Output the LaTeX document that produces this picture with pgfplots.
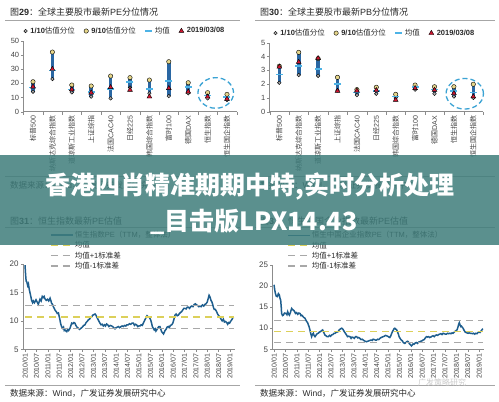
\documentclass[border=0pt]{standalone}
\usepackage{pgfplots}
\pgfplotsset{compat=1.18}
\usepackage{pgfplotstable}
\usepackage{fontspec}
\setmainfont{Liberation Sans}
\newfontfamily\cjk{Noto Sans CJK SC}

\definecolor{barblue}{HTML}{2A67A3}
\definecolor{qgrey}{HTML}{ABABAB}
\definecolor{qyellow}{HTML}{E6D68A}
\definecolor{meancyan}{HTML}{4DB3E6}
\definecolor{curred}{HTML}{D01530}
\definecolor{linedark}{HTML}{1E5E8E}
\definecolor{meanyel}{HTML}{DCD05A}
\definecolor{sdgrey}{HTML}{A8A8A8}
\definecolor{ringblue}{HTML}{3BA3D4}
\definecolor{banner}{HTML}{3F7D7B}
\definecolor{axgrey}{HTML}{8C8C8C}
\definecolor{txt}{HTML}{2A2A2A}
\definecolor{ticktxt}{HTML}{444444}

% PE quantiles
\pgfplotstableread{
x low high mean cur
0 14.1 21.1 17.0 17.6
1 23.0 42.0 29.0 30.0
2 13.6 18.8 15.5 15.7
3 10.6 18.1 14.0 13.4
4 9.4 25.1 16.0 17.2
5 17.0 24.0 21.0 15.3
6 13.0 22.3 15.8 10.6
7 11.0 35.2 21.8 16.5
8 13.0 20.4 17.5 14.1
9 9.4 13.4 11.5 10.6
10 8.2 12.2 10.3 9.0
}\petable

% PB quantiles
\pgfplotstableread{
x low high mean cur
0 2.10 3.30 2.70 3.25
1 2.66 4.30 3.30 3.60
2 2.60 3.85 3.10 3.87
3 1.55 2.49 2.00 1.50
4 1.20 1.60 1.40 1.52
5 1.30 1.77 1.50 1.55
6 1.00 1.26 1.10 0.85
7 1.60 1.93 1.80 1.70
8 1.30 1.81 1.60 1.57
9 1.10 1.81 1.50 1.33
10 1.00 1.99 1.40 1.10
}\pbtable

% Hang Seng PE (months since 2010/01)
\pgfplotstableread{
m v
0 19.8
0.3 18.2
0.6 17.0
1.0 16.8
1.4 16.2
1.8 16.5
2.2 15.6
2.6 15.0
3.0 14.4
3.5 13.6
4.0 13.2
4.4 13.5
5.0 13.2
5.8 13.7
6.4 13.3
7.0 12.9
7.5 13.4
7.9 13.8
8.5 13.5
9.1 14.3
9.6 14.1
10.1 14.3
10.5 13.9
11.2 13.6
11.9 13.8
12.5 13.5
13.2 14.0
13.6 13.6
14.0 13.1
14.5 12.9
14.9 12.5
15.4 12.2
15.8 11.9
16.5 11.6
17.0 11.3
17.6 11.4
18.0 10.8
18.4 10.2
18.8 9.5
19.3 9.0
19.8 8.7
20.3 8.9
20.7 8.3
21.1 8.4
21.6 8.2
22.0 8.1
22.5 8.5
23.0 8.3
23.7 8.7
24.2 9.2
24.6 9.6
25.2 9.5
25.8 9.7
26.3 9.6
26.8 9.2
27.4 8.9
28.1 8.7
28.7 8.5
29.5 8.7
30.2 8.9
30.9 9.2
31.6 9.3
32.2 9.7
32.8 9.9
33.4 10.2
34.0 10.3
34.6 10.6
35.1 10.7
35.7 11.0
36.3 11.1
36.9 11.2
37.4 11.0
37.8 10.7
38.4 10.3
39.0 9.9
39.5 9.6
40.1 9.3
40.7 9.4
41.3 9.1
41.9 9.3
42.4 9.1
43.0 9.45
43.6 9.3
44.2 9.0
44.9 9.2
45.7 9.1
46.5 8.9
47.0 8.7
47.4 8.6
48.0 8.8
48.6 8.9
49.2 9.0
49.9 8.8
50.6 9.0
51.2 9.1
51.8 9.0
52.5 9.2
53.1 9.1
53.7 9.3
54.4 9.3
55.0 9.5
55.7 9.4
56.4 9.6
57.1 9.6
57.7 9.2
58.3 9.4
58.8 9.3
59.4 9.0
60.0 9.1
60.6 9.1
61.2 9.3
61.8 9.2
62.5 9.7
63.2 10.2
63.7 10.5
64.3 10.9
65.0 10.7
65.5 10.6
66.2 10.2
66.7 9.6
67.1 9.0
67.6 8.7
68.1 8.4
68.6 8.6
69.0 8.2
69.4 8.4
69.9 8.7
70.5 9.0
71.1 9.0
71.6 8.5
72.0 8.1
72.5 7.9
73.0 7.7
73.4 8.0
73.8 8.3
74.3 8.5
74.9 8.9
75.5 9.0
76.0 8.8
76.6 9.2
77.3 9.3
77.9 9.6
78.5 10.3
79.0 11.0
79.6 11.2
80.2 10.9
80.8 11.0
81.4 11.3
82.0 11.5
82.5 11.6
83.1 11.9
83.7 12.2
84.3 12.2
84.9 12.1
85.5 12.4
86.1 12.4
86.7 12.2
87.3 12.5
87.8 12.6
88.5 12.5
89.2 12.9
89.8 13.0
90.4 12.8
91.0 12.7
91.6 12.5
92.2 12.6
92.8 12.5
93.5 12.8
94.2 12.6
94.8 12.9
95.4 13.0
96.0 13.3
96.6 14.0
97.0 14.5
97.5 14.2
98.0 13.6
98.4 13.4
98.8 13.0
99.2 12.5
99.7 12.0
100.3 12.0
101.0 11.6
101.5 11.2
102.1 10.9
102.7 10.7
103.3 10.3
103.9 10.0
104.5 10.3
105.1 9.8
105.7 9.9
106.3 9.7
106.8 9.4
107.3 9.7
107.8 9.6
108.3 9.9
108.8 10.1
109.3 10.4
109.8 10.7
}\hsi

% HSCEI PE
\pgfplotstableread{
m v
0 20.3
0.3 19.3
0.7 18.3
1.2 17.6
1.75 17.5
2.3 18.2
2.8 17.9
3.2 17.0
3.5 16.7
3.8 15.0
4.0 13.5
4.5 13.0
4.9 13.1
5.5 13.6
6.3 13.5
6.8 13.2
7.2 13.9
7.6 13.4
8.1 13.1
8.6 13.7
9.3 14.7
9.8 14.4
10.2 14.3
10.8 14.0
11.3 13.5
11.9 13.7
12.5 13.3
13.1 13.6
13.7 13.5
14.2 13.0
14.6 13.1
15.2 12.8
15.8 12.5
16.3 12.4
16.8 11.9
17.2 11.6
17.7 11.3
18.1 10.8
18.5 10.3
18.9 9.6
19.3 8.8
19.8 8.0
20.2 8.5
20.7 8.8
21.1 8.3
21.6 8.0
22.2 8.4
22.7 8.7
23.3 8.8
23.9 9.1
24.5 9.2
25.0 9.4
25.6 9.6
26.2 9.0
26.8 8.4
27.4 8.2
28.0 8.0
28.6 8.0
29.2 8.3
29.8 8.1
30.3 8.4
31.0 8.5
31.6 8.8
32.1 8.8
32.7 9.0
33.2 9.1
33.8 9.2
34.3 9.6
34.9 9.8
35.6 10.0
36.0 9.9
36.5 9.6
37.0 9.2
37.6 8.8
38.2 8.4
38.7 8.0
39.3 8.1
40.0 8.0
40.6 7.6
41.1 7.9
41.7 7.8
42.3 7.6
42.9 8.0
43.5 8.0
44.1 7.7
44.6 7.8
45.2 7.6
45.8 7.3
46.4 7.4
47.0 7.2
47.6 7.0
48.1 6.9
48.7 6.8
49.3 6.9
49.9 7.0
50.5 7.1
51.1 7.2
51.7 7.1
52.2 7.4
52.8 7.3
53.4 7.2
54.0 7.2
54.6 7.4
55.2 7.3
55.8 7.6
56.4 7.8
57.0 7.9
57.5 8.0
58.1 8.1
58.7 8.3
59.3 8.2
59.9 8.1
60.5 7.9
61.0 7.8
61.5 8.2
62.0 8.8
62.4 9.2
62.9 9.6
63.2 9.9
63.6 10.0
64.0 9.8
64.5 9.7
65.0 9.2
65.5 8.6
65.9 8.0
66.4 7.6
66.8 7.3
67.1 7.2
67.6 7.0
68.1 6.6
68.5 6.5
68.9 6.4
69.4 6.6
69.9 6.8
70.3 6.9
70.7 6.8
71.2 6.4
71.6 6.2
72.0 6.0
72.4 5.8
72.8 6.0
73.3 6.3
73.8 6.2
74.4 6.5
75.0 6.6
75.6 6.4
76.2 6.7
76.8 6.8
77.3 6.9
77.9 7.0
78.5 7.2
79.1 7.3
79.7 7.7
80.3 8.0
80.9 7.9
81.4 8.0
82.0 7.8
82.6 7.9
83.2 8.1
83.8 8.2
84.4 8.0
85.0 8.3
85.6 8.4
86.2 8.3
86.7 8.5
87.3 8.6
87.9 8.7
88.5 8.5
89.1 8.8
89.7 8.7
90.2 8.6
90.8 8.6
91.4 8.8
92.0 8.7
92.6 8.8
93.2 8.7
93.8 8.9
94.3 8.8
94.8 9.0
95.2 9.2
95.8 9.4
96.4 9.6
96.9 10.3
97.3 11.0
97.6 11.3
98.0 10.8
98.4 10.4
98.7 10.5
99.2 10.2
99.6 10.0
100.0 9.6
100.5 9.2
101.0 9.0
101.6 8.9
102.2 8.8
102.8 8.9
103.4 8.8
104.0 8.8
104.6 8.7
105.1 8.8
105.7 8.6
106.3 8.8
106.9 8.7
107.5 9.0
108.0 9.1
108.5 9.0
109.0 9.3
109.5 9.6
110.0 9.9
}\hscei

\pgfplotsset{
  scatterax/.style={
    scale only axis, clip=false,
    axis x line*=bottom, axis y line*=left,
    axis line style={axgrey, line width=0.5pt},
    xmin=-0.5, xmax=10.5, xtick={0,...,10},
    major x tick style={draw=none},
    minor xtick={-0.5,0.5,...,10.5},
    minor x tick style={draw=axgrey},
    minor tick length=3pt, major tick length=2.5pt,
    tick align=outside, y tick style={axgrey},
    xticklabel style={rotate=90, anchor=east, font=\fontsize{7}{8}\selectfont, inner sep=1.5pt, text=ticktxt},
    yticklabel style={font=\fontsize{7.5}{8}\selectfont, text=ticktxt, inner sep=1.5pt},
    /pgf/number format/assume math mode=true,
    unbounded coords=jump,
    xticklabels={{{\cjk 标普}500},{\cjk 纳斯达克综合指数},{\cjk 道琼斯工业指数},{\cjk 上证综指},{{\cjk 法国}CAC40},{{\cjk 日经}225},{\cjk 韩国综合指数},{{\cjk 富时}100},{{\cjk 德国}DAX},{\cjk 恒生指数},{\cjk 恒生国企指数}},
    legend columns=4,
    legend image code/.code={\draw[#1] plot coordinates {(0pt,0pt)};},
    legend style={draw=none, fill=none, font=\fontsize{7.5}{8}\selectfont, text=txt, inner sep=0pt,
      /tikz/every even column/.append style={column sep=7pt},
      /tikz/every odd column/.append style={column sep=1pt}},
  },
  tsax/.style={
    scale only axis,
    axis x line*=bottom, axis y line*=left,
    axis line style={axgrey, line width=0.5pt},
    tick align=outside, major tick length=2.5pt, tick style={axgrey},
    xtick={0,6,...,108},
    xticklabels={2010/01,2010/07,2011/01,2011/07,2012/01,2012/07,2013/01,2013/07,2014/01,2014/07,2015/01,2015/07,2016/01,2016/07,2017/01,2017/07,2018/01,2018/07,2019/01},
    xticklabel style={rotate=90, anchor=east, font=\fontsize{7}{8}\selectfont, inner sep=1.5pt, text=ticktxt},
    yticklabel style={font=\fontsize{8}{9}\selectfont, text=ticktxt, inner sep=2pt},
    /pgf/number format/assume math mode=true,
    legend cell align=left,
    legend image code/.code={\draw[#1] (0pt,0pt) -- (22pt,0pt);},
    legend style={draw=none, fill=none, font=\fontsize{7.5}{8}\selectfont, text=txt, inner sep=0pt, row sep=0pt,
      nodes={inner sep=1.2pt}},
  },
}

\begin{document}
\begin{tikzpicture}
\useasboundingbox (0pt,0pt) rectangle (499pt,402pt);
\fill[white] (0pt,0pt) rectangle (499pt,402pt);

% ---------- Titles and rules ----------
\node[anchor=west, text=txt, font=\fontsize{9}{10}\selectfont, inner sep=0pt] at (10pt,389.5pt) {{\cjk 图}\textbf{29}{\cjk ：全球主要股市最新}PE{\cjk 分位情况}};
\node[anchor=west, text=txt, font=\fontsize{9}{10}\selectfont, inner sep=0pt] at (260pt,389.5pt) {{\cjk 图}\textbf{30}{\cjk ：全球主要股市最新}PB{\cjk 分位情况}};
\draw[gray!70, line width=0.6pt] (5pt,381.3pt) -- (240pt,381.3pt);
\draw[gray!70, line width=0.6pt] (255pt,381.3pt) -- (495pt,381.3pt);

\draw[gray!70, line width=0.6pt] (5pt,225.3pt) -- (240pt,225.3pt);
\draw[gray!70, line width=0.6pt] (255pt,225.3pt) -- (495pt,225.3pt);
\node[anchor=west, text=txt, font=\fontsize{8.5}{9}\selectfont, inner sep=0pt] at (10pt,217pt) {{\cjk 数据来源：}Wind{\cjk ，广发证券发展研究中心}};
\node[anchor=west, text=txt, font=\fontsize{8.5}{9}\selectfont, inner sep=0pt] at (260pt,217pt) {{\cjk 数据来源：}Wind{\cjk ，广发证券发展研究中心}};

\node[anchor=west, text=txt, font=\fontsize{9}{10}\selectfont, inner sep=0pt] at (10pt,181pt) {{\cjk 图}\textbf{31}{\cjk ：恒生指数最新}PE{\cjk 估值}};
\node[anchor=west, text=txt, font=\fontsize{9}{10}\selectfont, inner sep=0pt] at (260pt,181pt) {{\cjk 图}\textbf{32}{\cjk ：恒生中国企业指数最新}PE{\cjk 估值}};
\draw[gray!70, line width=0.6pt] (5pt,174.7pt) -- (240pt,174.7pt);
\draw[gray!70, line width=0.6pt] (255pt,174.7pt) -- (495pt,174.7pt);

\draw[gray!70, line width=0.6pt] (5pt,17pt) -- (240pt,17pt);
\draw[gray!70, line width=0.6pt] (255pt,17pt) -- (495pt,17pt);
\node[anchor=west, text=txt, font=\fontsize{8.5}{9}\selectfont, inner sep=0pt] at (10pt,9pt) {{\cjk 数据来源：}Wind{\cjk ，广发证券发展研究中心}};
\node[anchor=west, text=txt, font=\fontsize{8.5}{9}\selectfont, inner sep=0pt] at (260pt,9pt) {{\cjk 数据来源：}Wind{\cjk ，广发证券发展研究中心}};
\node[anchor=west, text=gray!40, font=\cjk\fontsize{8}{9}\selectfont, inner sep=0pt] at (418pt,20pt) {广发策略研究};

% ---------- Chart 29: PE ----------
\begin{axis}[scatterax, at={(23.3pt,290.3pt)}, anchor=south west,
  width=213.4pt, height=71pt, ymin=0, ymax=50, ytick={0,10,...,50},
  legend style={at={(0.477,1.05)}, anchor=south}]
\addplot[forget plot, barblue, line width=3.6pt] coordinates {
 (0,14.1) (0,21.1) (0,nan)
 (1,23.0) (1,42.0) (1,nan)
 (2,13.6) (2,18.8) (2,nan)
 (3,10.6) (3,18.1) (3,nan)
 (4,9.4) (4,25.1) (4,nan)
 (5,17.0) (5,24.0) (5,nan)
 (6,13.0) (6,22.3) (6,nan)
 (7,11.0) (7,35.2) (7,nan)
 (8,13.0) (8,20.4) (8,nan)
 (9,9.4) (9,13.4) (9,nan)
 (10,8.2) (10,12.2)};
\addplot[only marks, mark=*, mark size=1.8pt, mark options={draw=none, fill=qgrey}] table[x=x, y=low] {\petable};
\addlegendentry{\textbf{1/10}{\cjk 估值分位}}
\addplot[only marks, mark=*, mark size=2.2pt, mark options={draw=none, fill=qyellow}] table[x=x, y=high] {\petable};
\addlegendentry{\textbf{9/10}{\cjk 估值分位}}
\addplot[only marks, mark=-, mark size=3.5pt, mark options={draw=meancyan, line width=1.6pt}] table[x=x, y=mean] {\petable};
\addlegendentry{{\cjk 均值}}
\addplot[only marks, mark=triangle*, mark size=2.8pt, mark options={draw=none, fill=curred}] table[x=x, y=cur] {\petable};
\addlegendentry{\textbf{2019/03/08}}
\draw[ringblue, line width=1.3pt, dash pattern=on 5pt off 3pt] (axis cs:9.42,13.2) ellipse [x radius=17.8pt, y radius=15.3pt];
\end{axis}

% ---------- Chart 30: PB ----------
\begin{axis}[scatterax, at={(269.6pt,290.3pt)}, anchor=south west,
  width=213.4pt, height=69pt, ymin=0, ymax=5, ytick={0,1,...,5},
  legend style={at={(0.494,1.05)}, anchor=south}]
\addplot[forget plot, barblue, line width=3.6pt] coordinates {
 (0,2.10) (0,3.30) (0,nan)
 (1,2.66) (1,4.30) (1,nan)
 (2,2.60) (2,3.85) (2,nan)
 (3,1.55) (3,2.49) (3,nan)
 (4,1.20) (4,1.60) (4,nan)
 (5,1.30) (5,1.77) (5,nan)
 (6,1.00) (6,1.26) (6,nan)
 (7,1.60) (7,1.93) (7,nan)
 (8,1.30) (8,1.81) (8,nan)
 (9,1.10) (9,1.81) (9,nan)
 (10,1.00) (10,1.99)};
\addplot[only marks, mark=*, mark size=1.8pt, mark options={draw=none, fill=qgrey}] table[x=x, y=low] {\pbtable};
\addlegendentry{\textbf{1/10}{\cjk 估值分位}}
\addplot[only marks, mark=*, mark size=2.2pt, mark options={draw=none, fill=qyellow}] table[x=x, y=high] {\pbtable};
\addlegendentry{\textbf{9/10}{\cjk 估值分位}}
\addplot[only marks, mark=-, mark size=3.5pt, mark options={draw=meancyan, line width=1.6pt}] table[x=x, y=mean] {\pbtable};
\addlegendentry{{\cjk 均值}}
\addplot[only marks, mark=triangle*, mark size=2.8pt, mark options={draw=none, fill=curred}] table[x=x, y=cur] {\pbtable};
\addlegendentry{\textbf{2019/03/08}}
\draw[ringblue, line width=1.3pt, dash pattern=on 5pt off 3pt] (axis cs:9.56,1.30) ellipse [x radius=18.7pt, y radius=15.3pt];
\end{axis}

% ---------- Chart 31: HSI PE ----------
\begin{axis}[tsax, at={(23.3pt,52.7pt)}, anchor=south west,
  width=211.4pt, height=85.3pt, xmin=-0.9, xmax=110.5,
  ymin=5, ymax=20, ytick={5,10,15,20},
  legend style={at={(0.126,1.40)}, anchor=north west}]
\addplot[linedark, line width=1.5pt] table[x=m, y=v] {\hsi};
\addlegendentry{{\cjk 恒生指数}PE{\cjk （}TTM{\cjk ，整体法）}}
\addplot[meanyel, line width=1.3pt, dash pattern=on 7pt off 5pt] coordinates {(0,10.7) (110,10.7)};
\addlegendentry{{\cjk 均值}}
\addplot[sdgrey, line width=1.3pt, dash pattern=on 7pt off 5pt] coordinates {(0,12.7) (110,12.7)};
\addlegendentry{{\cjk 均值}+1{\cjk 标准差}}
\addplot[sdgrey, line width=1.3pt, dash pattern=on 7pt off 5pt] coordinates {(0,8.7) (110,8.7)};
\addlegendentry{{\cjk 均值}-1{\cjk 标准差}}
\end{axis}

% ---------- Chart 32: HSCEI PE ----------
\begin{axis}[tsax, at={(272.7pt,52.7pt)}, anchor=south west,
  width=211.1pt, height=84.3pt, xmin=-0.7, xmax=110.5,
  ymin=5, ymax=25, ytick={5,10,15,20,25},
  legend style={at={(0.068,1.415)}, anchor=north west}]
\addplot[linedark, line width=1.5pt] table[x=m, y=v] {\hscei};
\addlegendentry{{\cjk 恒生中国企业指数}PE{\cjk （}TTM{\cjk ，整体法）}}
\addplot[meanyel, line width=1.3pt, dash pattern=on 7pt off 5pt] coordinates {(0,9.2) (110,9.2)};
\addlegendentry{{\cjk 均值}}
\addplot[sdgrey, line width=1.3pt, dash pattern=on 7pt off 5pt] coordinates {(0,11.8) (110,11.8)};
\addlegendentry{{\cjk 均值}+1{\cjk 标准差}}
\addplot[sdgrey, line width=1.3pt, dash pattern=on 7pt off 5pt] coordinates {(0,6.6) (110,6.6)};
\addlegendentry{{\cjk 均值}-1{\cjk 标准差}}
\end{axis}

% ---------- Overlay banner ----------
\fill[banner, fill opacity=0.85] (0pt,157pt) rectangle (499pt,247pt);
\node[text=white, font=\cjk\bfseries\fontsize{25}{28}\selectfont, inner sep=0pt] at (250pt,216pt) {香港四肖精准期期中特,实时分析处理};
\node[text=white, font=\cjk\bfseries\fontsize{25}{28}\selectfont, inner sep=0pt] at (254pt,180pt) {\_目击版LPX14.43};
\end{tikzpicture}
\end{document}
